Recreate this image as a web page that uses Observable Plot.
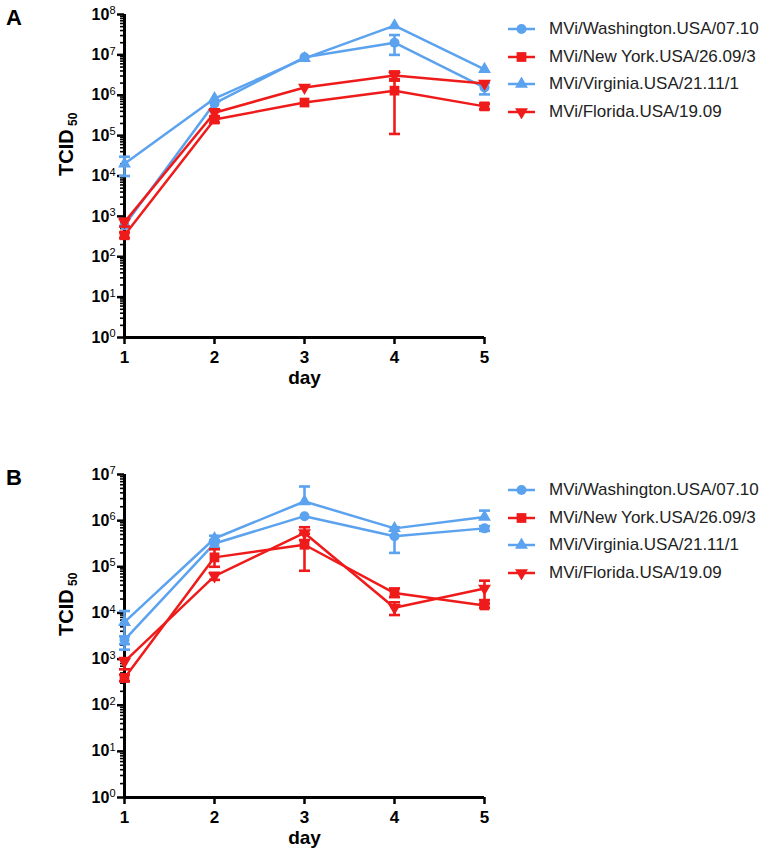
<!DOCTYPE html>
<html><head><meta charset="utf-8">
<script src="https://cdn.jsdelivr.net/npm/d3@7"></script>
<script src="https://cdn.jsdelivr.net/npm/@observablehq/plot@0.6"></script>
<style>
body{margin:0;background:#fff;font-family:"Liberation Sans",Arial,sans-serif;}
#wrap{position:relative;width:768px;height:860px;overflow:hidden;background:#fff}
.panel{position:absolute;left:0;width:768px;height:430px}
.plabel{position:absolute;left:6px;font-weight:bold;font-size:22px;line-height:22px;color:#000}
.legend{position:absolute;left:507px;font-size:17px;color:#222}
.legend .row{display:flex;align-items:center;height:27.7px;white-space:nowrap}
.legend svg{margin-right:13px;flex:none}
</style></head><body><div id="wrap"></div><script>
// ---------- data ----------
const days = [1, 2, 3, 4, 5];
const strains = ["MVi/Washington.USA/07.10", "MVi/New York.USA/26.09/3", "MVi/Virginia.USA/21.11/1", "MVi/Florida.USA/19.09"];
const strainColors = ["#5ba2ef", "#ef1b1b", "#5ba2ef", "#ef1b1b"];
const strainShapes = ["circle", "square", "triangle", "triangleDown"];

// Panel A (TCID50 per day)
const aWashington     = [600, 6.3e5, 8.7e6, 2.0e7, 1.55e6];
const aWashingtonLow  = [null, null, null, 1.0e7, 1.05e6];
const aWashingtonHigh = [null, null, null, 3.1e7, 2.0e6];
const aNewYork        = [340, 2.5e5, 6.6e5, 1.3e6, 5.3e5];
const aNewYorkLow     = [290, 2.1e5, null, 1.1e5, 4.5e5];
const aNewYorkHigh    = [400, 2.9e5, null, 2.5e6, 6.2e5];
const aVirginia       = [2.0e4, 8.3e5, 8.2e6, 5.3e7, 4.4e6];
const aVirginiaLow    = [1.0e4, null, null, null, null];
const aVirginiaHigh   = [3.0e4, null, null, null, null];
const aFlorida        = [720, 3.7e5, 1.55e6, 3.1e6, 1.95e6];
const aFloridaLow     = [560, 3.0e5, null, 2.3e6, null];
const aFloridaHigh    = [880, 4.5e5, null, 3.9e6, null];

// Panel B (TCID50 per day)
const bWashington     = [2.6e3, 3.2e5, 1.25e6, 4.6e5, 6.8e5];
const bWashingtonLow  = [2.1e3, 2.6e5, null, 2.0e5, 6.0e5];
const bWashingtonHigh = [3.1e3, 3.8e5, null, 7.2e5, 7.6e5];
const bNewYork        = [390, 1.6e5, 3.0e5, 2.7e4, 1.45e4];
const bNewYorkLow     = [330, 1.0e5, 8.2e4, 2.2e4, 1.3e4];
const bNewYorkHigh    = [460, 2.4e5, 5.2e5, 3.4e4, 1.6e4];
const bVirginia       = [6.3e3, 4.1e5, 2.6e6, 6.8e5, 1.2e6];
const bVirginiaLow    = [1.6e3, 3.6e5, null, null, null];
const bVirginiaHigh   = [1.1e4, 4.7e5, 5.5e6, null, 1.65e6];
const bFlorida        = [880, 6.3e4, 5.4e5, 1.3e4, 3.4e4];
const bFloridaLow     = [600, 5.2e4, 3.8e5, 9.0e3, 1.9e4];
const bFloridaHigh    = [1050, 7.4e4, 7.2e5, 1.7e4, 5.0e4];

const yMajorA = [1, 10, 100, 1e3, 1e4, 1e5, 1e6, 1e7, 1e8];
const yMajorB = [1, 10, 100, 1e3, 1e4, 1e5, 1e6, 1e7];

// ---------- symbols ----------
const triangleDown = {draw(ctx, size) {
  const y = -Math.sqrt(size / (Math.sqrt(3) * 3));
  ctx.moveTo(0, -y * 2); ctx.lineTo(-Math.sqrt(3) * y, y); ctx.lineTo(Math.sqrt(3) * y, y); ctx.closePath();
}};
const capSymbol = {draw(ctx, size) { const w = Math.sqrt(size) / 2; ctx.moveTo(-w, 0); ctx.lineTo(w, 0); }};
const symbolFor = {circle: "circle", square: "square", triangle: "triangle", triangleDown: triangleDown};
const radiusFor = {circle: 5, square: 5.5, triangle: 4.8, triangleDown: 4.8};

const supDigits = "⁰¹²³⁴⁵⁶⁷⁸⁹";
const supFmt = d => "10" + String(Math.round(Math.log10(d))).split("").map(c => supDigits[+c]).join("");

function minorTicks(maxExp) {
  const out = [];
  for (let e = 0; e < maxExp; e++) for (let k = 2; k <= 9; k++) out.push(k * 10 ** e);
  return out;
}

function makePanel(series, majors, marginTop, marginBottom) {
  const maxExp = Math.round(Math.log10(majors[majors.length - 1]));
  const marks = [
    Plot.axisY({ticks: minorTicks(maxExp), tickSize: 4, tickFormat: () => "", strokeWidth: 1.6, label: null}),
    Plot.axisY({ticks: majors, tickSize: 7, tickPadding: 2, tickFormat: supFmt, fontSize: 16, fontWeight: "bold", strokeWidth: 2.5, label: null}),
    Plot.axisX({ticks: days, tickSize: 7, tickPadding: 6, tickFormat: d => String(d), fontSize: 17, fontWeight: "bold", strokeWidth: 2.5, label: null}),
    Plot.ruleX([days[0]], {strokeWidth: 3}),
    Plot.ruleY([majors[0]], {strokeWidth: 3}),
    Plot.text(["day"], {frameAnchor: "bottom", dy: 46, fontSize: 19, fontWeight: "bold"}),
    Plot.text(["TCID"], {frameAnchor: "left", dx: -58, rotate: -90, fontSize: 20, fontWeight: "bold"})
  ];
  series.forEach((s, i) => {
    const color = strainColors[i];
    const shape = strainShapes[i];
    const rows = days.map((d, j) => ({day: d, v: s.mean[j], lo: s.lo[j], hi: s.hi[j]}));
    const errRows = rows.filter(r => r.lo != null || r.hi != null);
    marks.push(Plot.line(rows, {x: "day", y: "v", stroke: color, strokeWidth: 2.5}));
    marks.push(Plot.ruleX(errRows, {x: "day", y1: r => r.lo ?? r.v, y2: r => r.hi ?? r.v, stroke: color, strokeWidth: 2.6}));
    marks.push(Plot.dot(rows.filter(r => r.lo != null), {x: "day", y: "lo", symbol: capSymbol, r: 6.2, stroke: color, strokeWidth: 2.6, fill: "none"}));
    marks.push(Plot.dot(rows.filter(r => r.hi != null), {x: "day", y: "hi", symbol: capSymbol, r: 6.2, stroke: color, strokeWidth: 2.6, fill: "none"}));
    marks.push(Plot.dot(rows, {x: "day", y: "v", symbol: symbolFor[shape], r: radiusFor[shape], fill: color, stroke: "none"}));
  });
  const svg = Plot.plot({
    width: 768, height: 430,
    marginLeft: 124, marginRight: 284, marginTop, marginBottom,
    x: {domain: [days[0], days[days.length - 1]]},
    y: {type: "log", domain: [majors[0], majors[majors.length - 1]]},
    style: {fontFamily: "'Liberation Sans', Arial, sans-serif", color: "#000", background: "transparent", overflow: "visible"},
    marks
  });
  d3.select(svg).selectAll("text").each(function() {
    const t = d3.select(this); const s = t.text();
    if (s === "TCID") {
      t.append("tspan").attr("dy", "0.35em").attr("font-size", 12).text(" 50");
    } else if (/^10[⁰¹²³⁴⁵⁶⁷⁸⁹]+$/.test(s)) {
      const exp = s.slice(2).split("").map(c => supDigits.indexOf(c)).join("");
      t.text(""); t.append("tspan").text("10");
      t.append("tspan").attr("dy", "-0.5em").attr("font-size", 11).attr("font-weight", "normal").text(exp);
    }
  });
  return svg;
}

function legend(top) {
  const div = document.createElement("div");
  div.className = "legend"; div.style.top = top + "px";
  strains.forEach((name, i) => {
    const row = document.createElement("div"); row.className = "row";
    const shape = strainShapes[i];
    const sym = shape === "triangleDown" ? triangleDown : {circle: d3.symbolCircle, square: d3.symbolSquare, triangle: d3.symbolTriangle}[shape];
    const r = radiusFor[shape];
    const path = d3.symbol(sym, Math.PI * r * r)();
    row.innerHTML = `<svg width="29" height="14"><line x1="1" x2="28" y1="7" y2="7" stroke="${strainColors[i]}" stroke-width="2.5"/><path transform="translate(14.5,7)" d="${path}" fill="${strainColors[i]}"/></svg><span>${name}</span>`;
    div.appendChild(row);
  });
  return div;
}

const wrap = document.getElementById("wrap");
const seriesA = [
  {mean: aWashington, lo: aWashingtonLow, hi: aWashingtonHigh},
  {mean: aNewYork, lo: aNewYorkLow, hi: aNewYorkHigh},
  {mean: aVirginia, lo: aVirginiaLow, hi: aVirginiaHigh},
  {mean: aFlorida, lo: aFloridaLow, hi: aFloridaHigh}
];
const seriesB = [
  {mean: bWashington, lo: bWashingtonLow, hi: bWashingtonHigh},
  {mean: bNewYork, lo: bNewYorkLow, hi: bNewYorkHigh},
  {mean: bVirginia, lo: bVirginiaLow, hi: bVirginiaHigh},
  {mean: bFlorida, lo: bFloridaLow, hi: bFloridaHigh}
];

const pA = document.createElement("div"); pA.className = "panel"; pA.style.top = "0px";
pA.appendChild(makePanel(seriesA, yMajorA, 14, 93));
const pB = document.createElement("div"); pB.className = "panel"; pB.style.top = "430px";
pB.appendChild(makePanel(seriesB, yMajorB, 44, 63));
wrap.appendChild(pA); wrap.appendChild(pB);
wrap.appendChild(legend(15)); wrap.appendChild(legend(476));
const la = document.createElement("div"); la.className = "plabel"; la.style.top = "7px"; la.textContent = "A";
const lb = document.createElement("div"); lb.className = "plabel"; lb.style.top = "467px"; lb.textContent = "B";
wrap.appendChild(la); wrap.appendChild(lb);
</script></body></html>
